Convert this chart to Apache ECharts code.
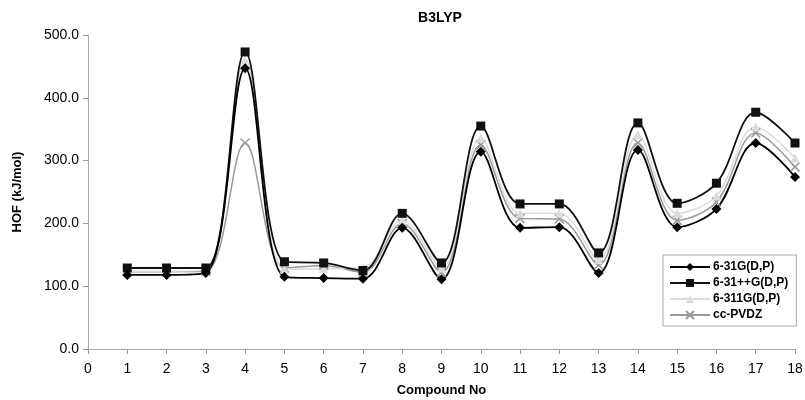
<!DOCTYPE html>
<html>
<head>
<meta charset="utf-8">
<script src="https://cdn.jsdelivr.net/npm/echarts@6/dist/echarts.min.js"></script>
<style>
html,body{margin:0;padding:0;background:#fff;}
#chart{width:805px;height:400px;}
</style>
</head>
<body>
<div id="chart"></div>
<script>
// compound numbers 1..18
var compounds = [1,2,3,4,5,6,7,8,9,10,11,12,13,14,15,16,17,18];
var hof631G   = [118,118,121,447,115,113,112,193,111,314,193,194,121,317,194,223,328,274];
var hof631ppG = [129,129,129,473,139,137,125,216,137,355,231,231,153,360,232,264,377,328];
var hof6311G  = [124,124,126,460,127,128,130,205,129,336,216,216,142,341,216,244,354,304];
var hofPVDZ   = [123,123,124,328,129,133,122,200,122,325,208,207,134,328,205,234,344,290];

var chart = echarts.init(document.getElementById('chart'));

function pairs(vals){
    var out = [];
    for (var i = 0; i < compounds.length; i++) {
        out.push([compounds[i], vals[i]]);
    }
    return out;
}

var font = 'Liberation Sans, Arial, sans-serif';
var xPath = 'path://M0,0L10,10M10,0L0,10';

function makeSeries(name, vals, color, symbol, size, width, hollow){
    return {
        name: name,
        type: 'line',
        smooth: 0.35,
        data: pairs(vals),
        symbol: symbol,
        symbolSize: size,
        showSymbol: true,
        lineStyle: {color: color, width: width},
        itemStyle: hollow
            ? {color: 'rgba(0,0,0,0)', borderColor: color, borderWidth: 1.5}
            : {color: color, borderWidth: 0},
        emphasis: {disabled: true}
    };
}

chart.setOption({
    animation: false,
    backgroundColor: '#fff',
    title: {
        text: 'B3LYP',
        left: 435,
        top: 6,
        textAlign: 'center',
        textStyle: {fontFamily: font, fontSize: 14, fontWeight: 'bold', color: '#000'}
    },
    grid: {left: 88, right: 10, top: 35, bottom: 51, outerBoundsMode: 'none', containLabel: false},
    legend: {
        orient: 'vertical',
        left: 663,
        top: 255,
        width: 122,
        padding: [6, 8, 5, 6],
        itemGap: 4,
        itemWidth: 40,
        itemHeight: 10,
        borderColor: '#aaa',
        borderWidth: 1,
        backgroundColor: '#fff',
        textStyle: {fontFamily: font, fontSize: 12, fontWeight: 'bold', color: '#000', padding: [0,0,0,-2]},
        data: ['6-31G(D,P)', '6-31++G(D,P)', '6-311G(D,P)', 'cc-PVDZ']
    },
    xAxis: {
        type: 'value',
        min: 0,
        max: 18,
        interval: 1,
        name: 'Compound No',
        nameLocation: 'middle',
        nameGap: 35,
        nameTextStyle: {fontFamily: font, fontSize: 13, fontWeight: 'bold', color: '#000'},
        axisLine: {lineStyle: {color: '#aaa'}},
        axisTick: {inside: false, length: 5, lineStyle: {color: '#999'}},
        axisLabel: {fontFamily: font, fontSize: 14, color: '#000', margin: 13},
        splitLine: {show: false}
    },
    yAxis: {
        type: 'value',
        min: 0,
        max: 500,
        interval: 100,
        name: 'HOF (kJ/mol)',
        nameLocation: 'middle',
        nameGap: 64,
        nameRotate: 90,
        nameTextStyle: {fontFamily: font, fontSize: 13, fontWeight: 'bold', color: '#000'},
        axisLine: {show: true, lineStyle: {color: '#aaa'}},
        axisTick: {show: true, length: 5, lineStyle: {color: '#999'}},
        axisLabel: {
            fontFamily: font, fontSize: 14, color: '#000', margin: 9,
            formatter: function(v){ return v.toFixed(1); }
        },
        splitLine: {show: false}
    },
    series: [
        makeSeries('cc-PVDZ', hofPVDZ, '#999', xPath, 9, 1.5, true),
        makeSeries('6-311G(D,P)', hof6311G, '#dcdcdc', 'triangle', 9, 1.5, false),
        makeSeries('6-31++G(D,P)', hof631ppG, '#111', 'rect', 9, 1.8, false),
        makeSeries('6-31G(D,P)', hof631G, '#000', 'diamond', 10, 1.8, false)
    ]
});
</script>
</body>
</html>
